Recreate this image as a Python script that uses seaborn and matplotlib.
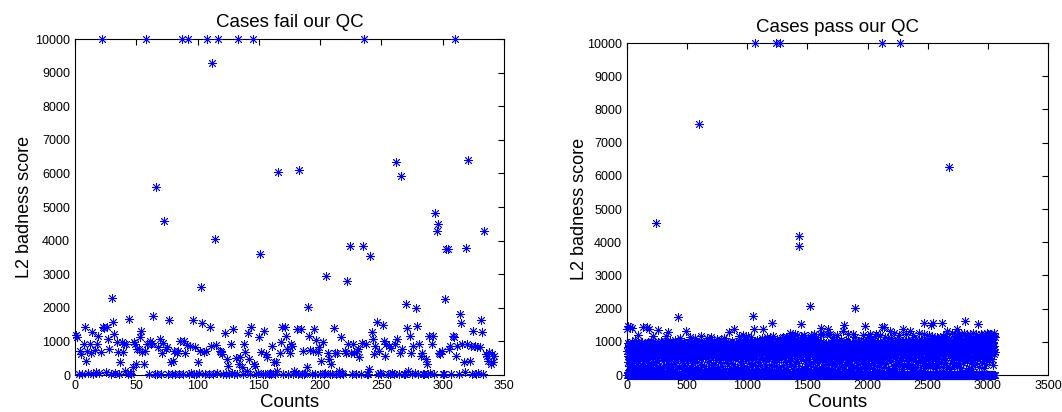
import numpy as np
import pandas as pd
import seaborn as sns
import matplotlib.pyplot as plt

# === data ===
# L2 badness score per case, in case order (x = count index)
fail_scores = [
    1200, 1140, 40, 700, 620, 30, 920, 1440, 430, 720,
    60, 920, 650, 1280, 20, 730, 80, 920, 1170, 50,
    690, 10000, 1440, 1400, 80, 1440, 1070, 770, 30, 2290,
    1570, 1220, 60, 975, 675, 20, 380, 975, 675, 925,
    130, 920, 30, 1670, 60, 20, 250, 975, 925, 330,
    775, 760, 1120, 1320, 675, 330, 725, 10000, 925, 30,
    1020, 920, 960, 1750, 30, 5600, 40, 820, 1070, 20,
    650, 960, 4570, 775, 825, 40, 1640, 390, 30, 430,
    725, 20, 650, 725, 40, 1020, 10000, 30, 1020, 650,
    900, 10000, 30, 850, 60, 1640, 20, 825, 40, 380,
    50, 725, 2610, 1540, 675, 30, 725, 10000, 40, 1420,
    870, 9300, 30, 4040, 900, 60, 10000, 725, 675, 625,
    20, 1240, 30, 480, 280, 40, 925, 60, 1370, 20,
    510, 40, 10000, 330, 530, 230, 30, 925, 675, 130,
    1240, 480, 30, 1440, 10000, 330, 280, 30, 60, 1120,
    3610, 675, 20, 1320, 40, 625, 530, 30, 60, 20,
    870, 380, 30, 380, 130, 6030, 650, 975, 1440, 40,
    1440, 1170, 775, 30, 650, 925, 870, 20, 130, 60,
    1370, 40, 6100, 1370, 30, 725, 20, 60, 230, 2020,
    1170, 750, 30, 725, 1370, 40, 1040, 675, 825, 20,
    430, 975, 30, 60, 2960, 650, 480, 20, 330, 40,
    1390, 650, 30, 650, 130, 40, 1140, 60, 20, 720,
    650, 2790, 925, 3840, 650, 30, 925, 650, 40, 725,
    775, 530, 20, 960, 3840, 10000, 925, 40, 30, 180,
    3540, 1270, 1075, 625, 870, 1570, 30, 725, 60, 20,
    1500, 1025, 575, 925, 30, 870, 40, 800, 60, 20,
    925, 6330, 1070, 30, 650, 5920, 775, 40, 20, 2120,
    1390, 130, 1170, 650, 30, 870, 60, 2000, 1470, 40,
    925, 575, 650, 30, 40, 480, 330, 20, 1170, 60,
    925, 1170, 30, 4820, 4280, 4500, 650, 625, 725, 40,
    20, 2270, 3760, 3760, 775, 870, 30, 1170, 1120, 10000,
    575, 870, 30, 1820, 1540, 925, 380, 80, 3790, 925,
    6400, 430, 870, 30, 1320, 870, 40, 825, 60, 825,
    1640, 1270, 30, 4280, 625, 575, 430, 675, 330, 625, 380, 560,
]

pass_scores = [
    0, 720, 1400, 0, 560, 950, 0, 380, 830, 60, 1480, 640, 20, 0, 910, 470, 0, 780, 260, 0, 690, 140, 0, 540, 1450, 0, 870, 120, 0, 610,
    0, 930, 450, 0, 700, 10, 820, 0, 560, 1420, 90, 740, 300, 0, 980, 620, 0, 50, 850, 0, 590, 160, 0, 660, 0, 230, 790, 30, 900, 510,
    0, 680, 0, 880, 140, 0, 760, 1050, 0, 470, 620, 80, 940, 0, 30, 710, 850, 0, 560, 0, 350, 410, 0, 790, 650, 0, 180, 920, 0, 730,
    0, 580, 860, 20, 1190, 0, 690, 40, 0, 810, 520, 0, 970, 110, 640, 270, 0, 880, 0, 740, 190, 0, 600, 0, 90, 830, 0, 700, 950, 0,
    760, 0, 540, 880, 0, 300, 0, 990, 640, 1450, 70, 720, 0, 860, 20, 0, 580, 910, 0, 680, 0, 420, 460, 0, 800, 0, 640, 210, 0, 940,
    0, 700, 850, 0, 530, 40, 160, 770, 0, 60, 890, 0, 620, 0, 960, 1450, 0, 710, 380, 0, 820, 0, 590, 1000, 0, 150, 740, 0, 880, 1380,
    0, 650, 0, 930, 480, 0, 790, 250, 0, 560, 0, 870, 20, 0, 720, 960, 0, 610, 130, 840, 250, 0, 1010, 690, 0, 770, 0, 540, 900, 0,
    680, 0, 830, 50, 1160, 590, 0, 740, 0, 360, 920, 0, 650, 880, 0, 40, 780, 0, 990, 0, 620, 170, 0, 510, 0, 940, 720, 4570, 0, 180,
    0, 860, 0, 570, 310, 0, 700, 0, 430, 890, 0, 760, 100, 620, 80, 0, 950, 0, 680, 1350, 0, 540, 810, 0, 30, 730, 200, 0, 600, 0,
    910, 0, 650, 0, 840, 220, 0, 780, 60, 1020, 560, 0, 700, 0, 870, 30, 0, 640, 990, 0, 730, 140, 500, 860, 0, 0, 770, 280, 0, 590,
    0, 820, 0, 680, 940, 0, 450, 0, 760, 120, 0, 1000, 630, 40, 870, 0, 560, 740, 0, 0, 910, 670, 0, 280, 0, 830, 1180, 0, 600, 90,
    720, 0, 880, 0, 540, 960, 0, 690, 150, 1300, 0, 780, 410, 0, 850, 0, 620, 330, 0, 50, 730, 0, 920, 0, 580, 800, 0, 70, 690, 1010,
    0, 760, 0, 540, 870, 0, 330, 0, 950, 680, 20, 810, 0, 0, 720, 190, 0, 590, 0, 860, 160, 0, 740, 980, 0, 630, 0, 0, 820, 700,
    0, 900, 0, 560, 100, 1060, 780, 0, 640, 0, 370, 850, 0, 0, 710, 930, 0, 590, 40, 820, 240, 0, 680, 0, 470, 0, 960, 750, 0, 610,
    0, 840, 0, 700, 520, 0, 1740, 560, 0, 890, 0, 250, 770, 0, 930, 60, 650, 0, 1100, 820, 0, 590, 0, 740, 960, 0, 20, 680, 0, 870,
    0, 620, 1000, 0, 780, 0, 430, 910, 0, 700, 130, 0, 840, 560, 0, 280, 0, 730, 0, 650, 890, 0, 310, 0, 980, 760, 0, 80, 600, 820,
    0, 710, 0, 950, 540, 0, 860, 1330, 0, 680, 0, 170, 0, 770, 200, 0, 890, 620, 0, 40, 740, 480, 0, 580, 0, 910, 690, 0, 450, 0,
    830, 0, 660, 990, 0, 720, 90, 0, 880, 540, 0, 1150, 0, 760, 70, 0, 620, 940, 0, 810, 0, 230, 700, 520, 0, 590, 0, 870, 350, 0,
    750, 0, 920, 0, 640, 140, 0, 780, 0, 30, 560, 890, 0, 710, 0, 990, 430, 0, 830, 0, 670, 1120, 0, 60, 740, 0, 600, 950, 0, 820,
    0, 690, 0, 1010, 560, 0, 870, 0, 740, 240, 0, 930, 110, 0, 650, 380, 0, 780, 0, 610, 890, 0, 720, 0, 980, 20, 540, 7560, 0, 830,
    0, 700, 960, 0, 590, 0, 840, 190, 0, 50, 730, 480, 0, 910, 0, 660, 1170, 0, 800, 0, 90, 570, 940, 0, 720, 0, 300, 640, 0, 870,
    0, 30, 760, 550, 0, 990, 0, 690, 880, 0, 130, 0, 820, 260, 0, 630, 0, 0, 910, 740, 0, 580, 0, 1020, 800, 0, 670, 150, 0, 940,
    710, 0, 860, 0, 590, 1110, 0, 770, 0, 70, 650, 930, 0, 820, 0, 400, 510, 0, 690, 0, 0, 880, 560, 0, 210, 0, 730, 0, 810, 0,
    620, 950, 0, 40, 780, 0, 1150, 680, 0, 860, 0, 540, 0, 990, 740, 0, 120, 610, 900, 0, 820, 0, 330, 0, 700, 290, 0, 870, 0, 60,
    760, 1010, 0, 630, 0, 890, 0, 720, 170, 0, 20, 580, 940, 0, 810, 0, 680, 450, 0, 0, 750, 0, 900, 610, 0, 1070, 0, 90, 840, 690,
    0, 970, 0, 560, 0, 820, 240, 0, 730, 0, 50, 880, 650, 0, 1000, 0, 770, 0, 920, 0, 600, 140, 850, 390, 0, 710, 0, 0, 960, 540,
    0, 830, 0, 1050, 690, 0, 900, 0, 30, 760, 280, 0, 620, 0, 940, 0, 820, 110, 0, 700, 500, 0, 570, 0, 880, 730, 0, 1110, 0, 0,
    650, 0, 960, 0, 790, 180, 0, 40, 710, 0, 880, 560, 0, 1020, 0, 840, 0, 0, 670, 360, 0, 760, 0, 930, 0, 600, 80, 470, 820, 0,
    0, 720, 980, 0, 550, 0, 1290, 0, 850, 680, 0, 130, 440, 0, 770, 0, 910, 620, 0, 20, 830, 210, 0, 700, 0, 960, 0, 0, 580, 880,
    0, 1010, 0, 740, 60, 860, 0, 630, 320, 0, 0, 790, 0, 940, 680, 0, 150, 0, 820, 1380, 0, 560, 0, 900, 0, 750, 490, 0, 30, 660,
    870, 0, 1000, 0, 720, 0, 590, 950, 0, 90, 830, 250, 0, 680, 0, 890, 0, 770, 0, 540, 610, 0, 40, 940, 0, 710, 1170, 0, 840, 0,
    0, 640, 980, 0, 760, 0, 190, 0, 20, 870, 550, 0, 1010, 0, 730, 900, 0, 0, 680, 420, 0, 820, 110, 960, 0, 590, 0, 300, 780, 0,
    0, 910, 0, 700, 1190, 0, 850, 0, 60, 630, 990, 0, 760, 0, 230, 0, 880, 570, 0, 0, 520, 720, 0, 940, 130, 810, 0, 1150, 0, 660,
    0, 870, 480, 0, 740, 0, 920, 0, 590, 170, 0, 30, 800, 680, 0, 1170, 0, 950, 0, 720, 0, 0, 350, 860, 0, 630, 90, 900, 560, 0,
    770, 0, 0, 980, 610, 0, 260, 0, 840, 0, 700, 930, 0, 50, 1140, 0, 760, 440, 0, 890, 0, 560, 0, 150, 820, 0, 0, 960, 690, 1780,
    0, 880, 0, 740, 1030, 0, 600, 1400, 0, 950, 20, 0, 810, 290, 0, 700, 10000, 0, 870, 0, 990, 640, 0, 120, 520, 780, 0, 910, 0, 720,
    1040, 0, 830, 0, 40, 380, 690, 0, 960, 0, 770, 0, 180, 880, 0, 0, 620, 1010, 0, 840, 0, 730, 510, 0, 900, 0, 70, 650, 970, 0,
    810, 0, 270, 0, 740, 920, 0, 0, 600, 1120, 0, 860, 0, 990, 30, 710, 0, 450, 830, 0, 1380, 0, 680, 0, 940, 160, 0, 0, 770, 880,
    0, 1010, 0, 650, 0, 900, 330, 0, 790, 60, 0, 960, 720, 0, 540, 0, 840, 0, 610, 1130, 0, 930, 0, 110, 760, 220, 0, 870, 0, 700,
    1080, 0, 820, 0, 950, 0, 20, 680, 470, 0, 890, 0, 740, 190, 0, 0, 860, 590, 0, 1110, 0, 970, 0, 780, 0, 310, 700, 0, 80, 920,
    0, 830, 1560, 0, 710, 140, 0, 0, 960, 640, 0, 1180, 0, 870, 0, 750, 420, 0, 30, 910, 560, 0, 260, 0, 800, 0, 940, 510, 0, 690,
    0, 1000, 0, 850, 90, 10000, 720, 0, 380, 0, 960, 0, 0, 780, 1070, 0, 620, 0, 930, 170, 0, 840, 0, 40, 1010, 700, 0, 890, 0, 550,
    0, 760, 980, 0, 20, 230, 0, 860, 650, 0, 1040, 10000, 0, 910, 0, 730, 480, 0, 0, 990, 800, 0, 140, 0, 590, 0, 940, 1100, 0, 0,
    870, 0, 310, 0, 700, 0, 1150, 930, 0, 60, 780, 530, 0, 640, 0, 990, 0, 180, 0, 850, 720, 0, 0, 1030, 0, 910, 0, 400, 760, 0,
    0, 960, 0, 680, 1090, 0, 880, 0, 30, 250, 740, 0, 1130, 0, 830, 0, 600, 970, 0, 120, 570, 0, 790, 1180, 0, 900, 0, 710, 0, 460,
    0, 0, 860, 1260, 0, 740, 0, 990, 70, 340, 650, 0, 0, 920, 0, 520, 800, 0, 1210, 0, 20, 880, 700, 0, 1000, 0, 190, 0, 770, 960,
    0, 0, 1080, 0, 850, 620, 0, 280, 0, 930, 1170, 0, 50, 740, 0, 560, 0, 890, 0, 1240, 780, 0, 0, 980, 160, 700, 430, 0, 870, 0,
    1030, 0, 760, 0, 940, 0, 1190, 0, 820, 90, 370, 650, 0, 1000, 880, 0, 0, 4180, 150, 0, 730, 960, 3900, 0, 590, 0, 0, 810, 700, 0,
    960, 0, 1130, 0, 870, 30, 740, 490, 1530, 0, 0, 900, 680, 0, 220, 0, 830, 0, 1060, 0, 770, 990, 0, 0, 560, 0, 640, 920, 110, 1040,
    0, 0, 860, 1200, 0, 750, 0, 980, 0, 410, 820, 0, 40, 1150, 0, 700, 940, 0, 270, 0, 0, 880, 530, 0, 760, 0, 1010, 0, 910, 640,
    0, 1120, 0, 850, 0, 180, 0, 960, 730, 0, 20, 1060, 0, 890, 490, 0, 780, 0, 1000, 0, 2090, 920, 0, 0, 330, 700, 0, 1050, 60, 840,
    0, 970, 1210, 0, 0, 760, 0, 590, 0, 880, 1010, 0, 650, 140, 360, 0, 930, 0, 0, 1040, 810, 0, 1250, 0, 720, 0, 990, 470, 0, 0,
    870, 0, 1020, 0, 760, 250, 0, 940, 0, 30, 540, 830, 0, 1130, 0, 690, 0, 980, 0, 170, 0, 0, 890, 1050, 0, 770, 0, 620, 920, 0,
    0, 1000, 0, 860, 0, 570, 730, 0, 380, 0, 950, 0, 80, 1230, 820, 0, 510, 0, 910, 1430, 0, 0, 780, 220, 0, 990, 0, 680, 150, 640,
    0, 880, 450, 0, 0, 970, 0, 1250, 760, 0, 440, 0, 20, 840, 610, 0, 130, 0, 700, 0, 560, 930, 0, 50, 600, 0, 850, 0, 290, 0,
    790, 330, 0, 0, 960, 0, 560, 0, 880, 1240, 0, 710, 0, 100, 0, 20, 420, 840, 0, 950, 1380, 0, 0, 690, 0, 770, 190, 0, 920, 0,
    0, 640, 0, 860, 0, 1220, 690, 0, 30, 510, 0, 980, 800, 0, 370, 0, 0, 900, 320, 0, 740, 0, 560, 0, 960, 0, 140, 630, 830, 0,
    1140, 0, 920, 0, 0, 610, 760, 0, 190, 0, 870, 90, 0, 580, 0, 940, 430, 0, 700, 0, 260, 0, 0, 850, 990, 0, 470, 0, 780, 0,
    0, 530, 0, 910, 1200, 0, 40, 820, 0, 360, 0, 960, 740, 0, 670, 0, 0, 550, 880, 0, 250, 0, 690, 0, 170, 0, 0, 940, 580, 0,
    810, 0, 480, 0, 0, 970, 0, 450, 760, 0, 1040, 0, 900, 0, 60, 620, 830, 0, 990, 0, 280, 0, 0, 720, 550, 1330, 0, 930, 0, 1500,
    0, 0, 710, 860, 0, 190, 0, 770, 0, 520, 950, 0, 20, 640, 0, 840, 0, 1020, 690, 0, 330, 0, 0, 910, 380, 0, 800, 0, 580, 0,
    980, 0, 740, 0, 100, 0, 0, 870, 1220, 0, 160, 0, 680, 0, 550, 0, 0, 450, 830, 0, 600, 0, 920, 70, 0, 40, 760, 0, 490, 0,
    630, 0, 880, 0, 0, 270, 710, 0, 990, 0, 300, 0, 860, 0, 0, 1240, 940, 0, 780, 0, 560, 0, 120, 480, 900, 0, 720, 0, 690, 0,
    0, 1140, 0, 970, 2030, 0, 820, 0, 540, 0, 0, 210, 750, 0, 610, 0, 930, 0, 70, 460, 860, 0, 410, 0, 700, 0, 350, 0, 0, 990,
    880, 0, 520, 0, 760, 0, 0, 1030, 940, 0, 580, 0, 680, 0, 170, 0, 220, 900, 650, 0, 820, 0, 1000, 0, 440, 0, 30, 720, 960, 0,
    600, 0, 870, 0, 0, 740, 0, 1210, 790, 0, 950, 0, 0, 340, 680, 0, 260, 0, 910, 0, 0, 530, 840, 0, 990, 0, 740, 120, 470, 1480,
    0, 0, 1020, 890, 0, 560, 0, 760, 0, 180, 960, 0, 130, 630, 0, 830, 0, 510, 700, 0, 1140, 0, 0, 920, 410, 0, 860, 0, 290, 0,
    0, 980, 0, 750, 610, 0, 0, 900, 0, 1240, 820, 0, 240, 0, 0, 570, 690, 0, 970, 0, 490, 0, 60, 860, 700, 0, 780, 0, 1030, 0,
    940, 0, 350, 0, 0, 710, 1060, 0, 880, 0, 520, 0, 0, 190, 800, 0, 630, 0, 930, 0, 20, 470, 660, 0, 1180, 0, 850, 0, 590, 0,
    0, 1250, 0, 770, 440, 0, 0, 920, 0, 260, 840, 0, 610, 0, 0, 1000, 730, 0, 960, 0, 150, 0, 0, 870, 550, 0, 690, 0, 380, 0,
    0, 990, 0, 580, 0, 810, 1190, 0, 0, 940, 330, 0, 760, 0, 640, 0, 1450, 0, 880, 0, 120, 10000, 0, 970, 0, 700, 0, 460, 0, 820,
    0, 0, 850, 510, 0, 1450, 0, 920, 0, 240, 780, 0, 0, 690, 0, 960, 0, 1140, 690, 0, 540, 0, 0, 880, 370, 0, 810, 0, 620, 0,
    990, 0, 460, 0, 0, 740, 1050, 0, 900, 0, 210, 0, 0, 610, 830, 0, 530, 0, 950, 0, 0, 780, 700, 0, 90, 1330, 0, 870, 0, 570,
    0, 1110, 0, 790, 0, 960, 420, 0, 0, 880, 640, 0, 150, 0, 720, 0, 0, 1000, 930, 0, 280, 0, 840, 0, 570, 0, 0, 1260, 770, 0,
    650, 0, 910, 0, 0, 340, 0, 830, 1020, 0, 500, 0, 690, 0, 0, 990, 190, 0, 860, 0, 770, 0, 0, 950, 760, 0, 430, 0, 1040, 0,
    0, 880, 0, 620, 0, 970, 0, 0, 260, 800, 0, 1190, 0, 920, 0, 510, 0, 0, 10000, 740, 0, 350, 0, 890, 680, 0, 0, 960, 0, 540,
    0, 820, 1030, 0, 0, 460, 0, 900, 0, 170, 710, 0, 0, 1380, 980, 0, 620, 0, 850, 0, 0, 310, 940, 0, 740, 0, 780, 0, 580, 0,
    990, 0, 700, 0, 0, 870, 1250, 0, 960, 0, 730, 0, 0, 240, 520, 0, 890, 0, 600, 0, 0, 810, 1060, 0, 950, 0, 410, 0, 0, 680,
    760, 0, 1010, 0, 920, 0, 0, 330, 840, 0, 630, 1330, 0, 970, 0, 0, 550, 700, 0, 190, 0, 880, 0, 490, 0, 0, 1000, 740, 0, 830,
    0, 650, 0, 940, 0, 0, 270, 780, 0, 1210, 0, 520, 0, 0, 900, 660, 0, 860, 0, 110, 0, 0, 980, 720, 0, 450, 0, 1040, 0, 0,
    590, 870, 0, 1080, 0, 960, 0, 0, 230, 810, 0, 1000, 0, 640, 0, 0, 930, 560, 0, 750, 0, 380, 0, 0, 820, 890, 0, 1270, 0, 990,
    0, 0, 520, 840, 0, 710, 0, 970, 0, 150, 0, 0, 660, 720, 0, 1090, 0, 930, 0, 0, 440, 1010, 0, 860, 0, 630, 0, 0, 290, 780,
    0, 690, 0, 910, 0, 370, 0, 0, 1560, 1240, 0, 880, 0, 550, 0, 0, 1030, 960, 0, 200, 0, 820, 0, 0, 710, 990, 0, 460, 0, 920,
    0, 0, 1080, 770, 0, 570, 0, 1010, 0, 0, 330, 900, 0, 640, 0, 840, 0, 0, 760, 1190, 0, 950, 0, 500, 0, 0, 870, 250, 0, 720,
    0, 660, 0, 930, 0, 0, 1090, 420, 0, 1500, 0, 740, 0, 1180, 0, 0, 960, 620, 0, 830, 1560, 0, 310, 0, 0, 1000, 890, 0, 550, 0,
    1070, 0, 740, 0, 0, 940, 530, 0, 800, 0, 200, 0, 0, 1050, 980, 0, 670, 0, 910, 0, 0, 360, 780, 0, 860, 0, 1140, 0, 0, 610,
    690, 0, 920, 0, 1110, 0, 0, 430, 870, 0, 1060, 0, 570, 0, 0, 990, 250, 0, 840, 0, 720, 0, 0, 1040, 600, 0, 950, 0, 390, 0,
    0, 750, 0, 1010, 0, 1560, 0, 880, 620, 0, 470, 0, 0, 960, 1180, 0, 830, 0, 230, 0, 0, 740, 1000, 0, 900, 0, 560, 0, 0, 1060,
    710, 0, 940, 0, 500, 0, 0, 1250, 850, 0, 370, 0, 1020, 0, 0, 640, 1330, 0, 970, 0, 790, 0, 0, 230, 880, 0, 690, 0, 1050, 0,
    0, 990, 0, 560, 0, 0, 1080, 920, 0, 6270, 0, 740, 0, 1030, 0, 0, 870, 180, 0, 620, 0, 960, 0, 0, 810, 1040, 0, 830, 0, 450,
    0, 0, 670, 1260, 0, 900, 0, 330, 0, 0, 1000, 790, 0, 860, 0, 540, 0, 0, 1090, 950, 0, 270, 0, 720, 0, 0, 1220, 880, 0, 610,
    0, 1050, 0, 490, 0, 0, 930, 1140, 0, 1380, 0, 710, 0, 230, 0, 0, 860, 600, 0, 1200, 0, 970, 0, 0, 360, 760, 0, 900, 0, 1250,
    0, 0, 1030, 580, 0, 840, 0, 1120, 0, 0, 440, 990, 0, 650, 0, 770, 0, 0, 920, 210, 0, 1010, 0, 730, 0, 0, 880, 1190, 0, 560,
    0, 820, 0, 950, 0, 0, 360, 1040, 0, 1260, 0, 890, 0, 600, 0, 0, 1180, 970, 0, 1630, 0, 520, 0, 800, 0, 0, 860, 140, 0, 1070,
    0, 0, 730, 930, 0, 410, 0, 1190, 0, 0, 1000, 650, 0, 870, 0, 560, 0, 0, 1060, 210, 0, 940, 0, 720, 0, 0, 1030, 480, 0, 900,
    0, 1240, 0, 680, 0, 0, 960, 370, 0, 1130, 0, 810, 0, 0, 520, 850, 0, 190, 0, 1050, 0, 0, 740, 990, 0, 1260, 0, 920, 0, 600,
    0, 0, 700, 1030, 0, 880, 0, 460, 0, 0, 1090, 830, 0, 970, 0, 320, 0, 0, 1250, 900, 0, 580, 0, 1040, 0, 0, 750, 820, 0, 610,
    0, 1060, 0, 490, 0, 0, 940, 720, 0, 1530, 0, 1000, 0, 240, 0, 0, 1090, 870, 0, 670, 0, 1030, 0, 0, 820, 960, 0, 540, 0, 780,
    0, 0, 1250, 910, 0, 660, 0, 350, 0, 0, 1200, 990, 0, 730, 0, 860, 0, 0, 480, 1070, 0, 640, 0, 940, 0, 0, 210, 1020, 0, 690,
    0, 880, 0, 900, 0, 0, 530, 1150, 0, 1010, 0, 600, 0, 0, 960, 320, 0, 740, 0, 1270, 0, 0, 870, 880, 0, 490, 0, 1250, 0, 1000,
    0, 0, 1140, 970, 0, 610, 0, 460, 0, 0, 1180, 920, 0, 1200, 0, 730, 1200, 0, 560, 0, 800, 0, 950, 0, 0, 1160, 1040, 0, 1230, 0,
    670, 0, 910, 0, 490, 0, 0, 1120, 850, 0, 1000, 0, 310, 0, 0, 750, 960, 0, 640, 0, 880, 0, 0, 1180, 1270, 0, 700, 0, 1130, 680,
]

panel_titles = ["Cases fail our QC", "Cases pass our QC"]
x_limits = [350, 3500]
y_ticks = list(range(0, 10001, 1000))

fail_df = pd.DataFrame({"Counts": np.arange(1, len(fail_scores) + 1), "score": fail_scores})
pass_df = pd.DataFrame({"Counts": np.arange(1, len(pass_scores) + 1), "score": pass_scores})

sns.set_style("white")
plt.rcParams["font.family"] = ["Liberation Sans", "DejaVu Sans"]
plt.rcParams["text.color"] = "black"
plt.rcParams["axes.labelcolor"] = "black"

fig = plt.figure(figsize=(10.62, 4.12), dpi=100)
ax1 = fig.add_axes([0.0706, 0.0898, 0.4040, 0.8155])
ax2 = fig.add_axes([0.5904, 0.0898, 0.3964, 0.8058])

for ax, df, title, xmax, ylab_x, tpad in [
    (ax1, fail_df, panel_titles[0], x_limits[0], -0.097, 8.6),
    (ax2, pass_df, panel_titles[1], x_limits[1], -0.093, 7.9),
]:
    sns.scatterplot(data=df, x="Counts", y="score", ax=ax, marker=(8, 2, 0),
                    s=36, color=(0, 0, 1), linewidth=0.6, legend=False,
                    clip_on=False, zorder=3)
    ax.set_xlim(0, xmax)
    ax.set_ylim(0, 10000)
    ax.set_xticks(np.arange(0, xmax + 1, xmax // 7))
    ax.set_yticks(y_ticks)
    ax.tick_params(direction="in", length=4, width=0.8, top=True, right=True,
                   labelsize=9, pad=3.5, colors="black")
    for sp in ax.spines.values():
        sp.set_color("black")
        sp.set_linewidth(0.8)
    ax.set_title(title, fontsize=13.5, pad=tpad)
    ax.set_xlabel("Counts", fontsize=13.5)
    ax.set_ylabel("L2 badness score", fontsize=13)
    ax.xaxis.set_label_coords(0.5, -0.056)
    ax.yaxis.set_label_coords(ylab_x, 0.5)

fig.savefig("out.png", dpi=100)
